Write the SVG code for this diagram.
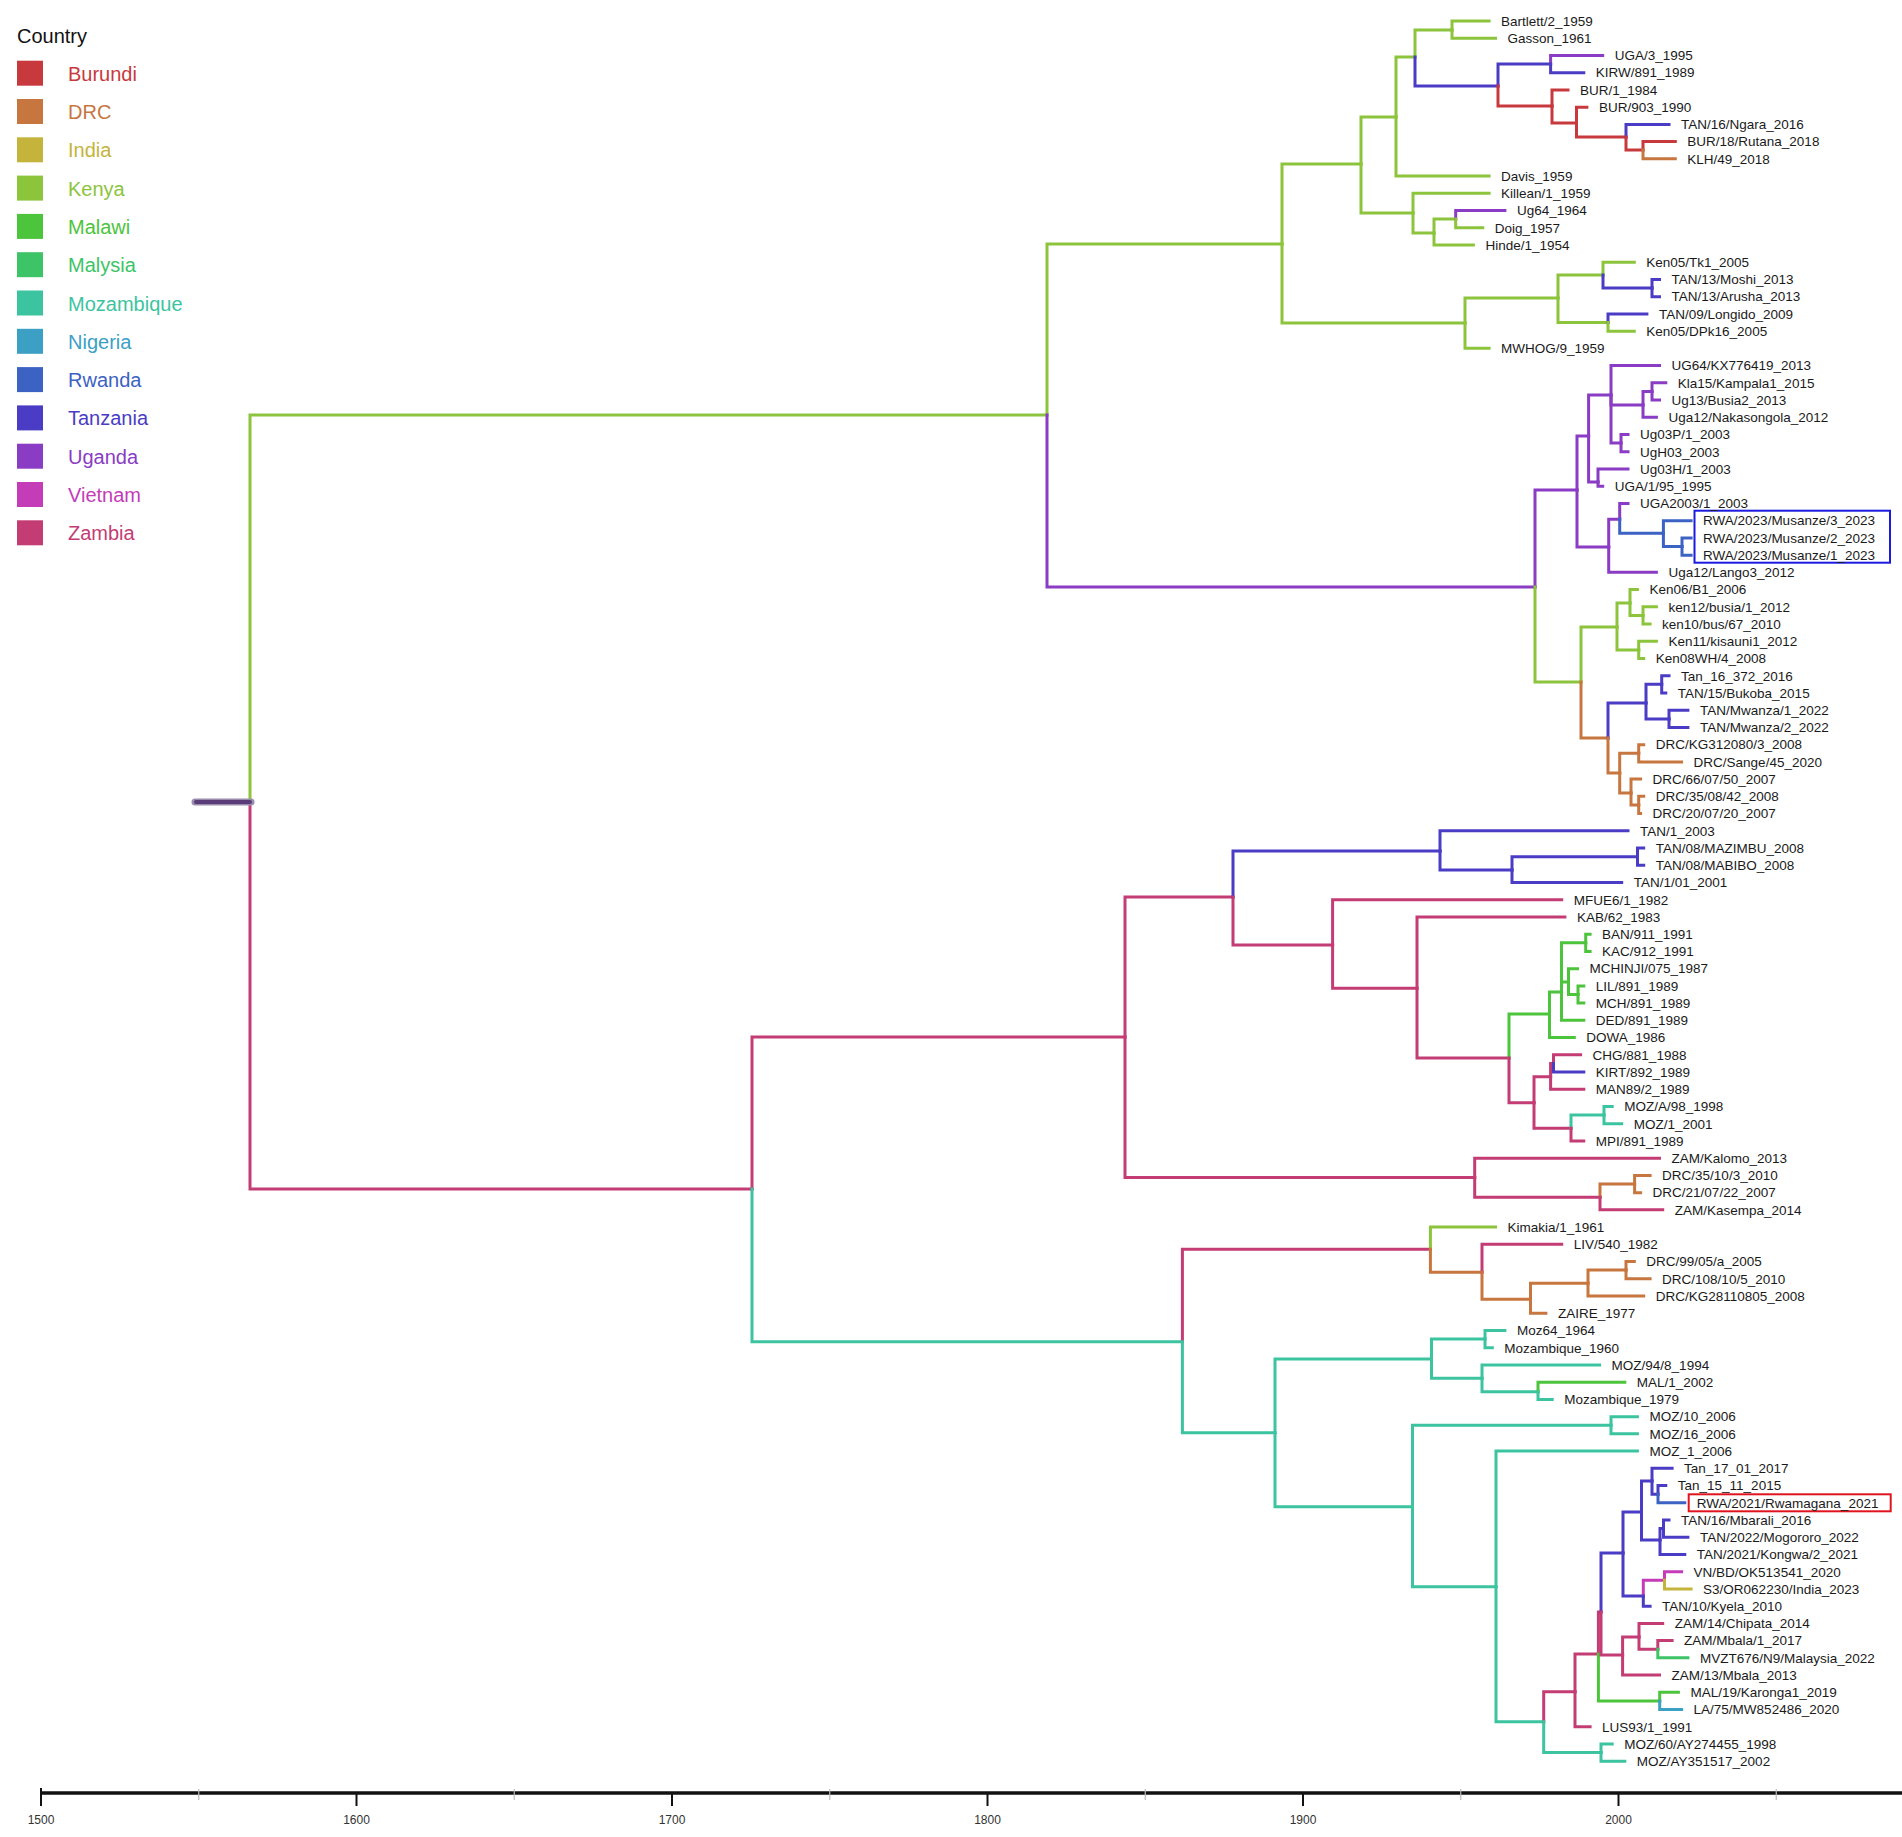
<svg xmlns="http://www.w3.org/2000/svg" width="1902" height="1837" viewBox="0 0 1902 1837">
<style>
.e{fill:none;stroke-width:3;stroke-linecap:square;stroke-linejoin:miter}
.bu{stroke:#c8393e}.dr{stroke:#c8763f}.in{stroke:#c4b43c}.ke{stroke:#8cc43c}.mw{stroke:#4cc43c}.my{stroke:#3cc466}.mz{stroke:#3cc4a0}.ng{stroke:#3ca0c4}.rw{stroke:#3c62c4}.tz{stroke:#4a3cc4}.ug{stroke:#8a3cc4}.vn{stroke:#c43cb8}.za{stroke:#c43c74}
.t{font-family:"Liberation Sans",Arial,sans-serif;font-size:13.5px;fill:#1a1a1a}
.lg{font-family:"Liberation Sans",Arial,sans-serif;font-size:20px}
.ax{font-family:"Liberation Sans",Arial,sans-serif;font-size:12px;fill:#333;text-anchor:middle}
</style>
<rect width="1902" height="1837" fill="#ffffff"/>
<g id="legend">
<text class="lg" x="17" y="43" fill="#111">Country</text>
<rect x="17" y="60.7" width="26" height="25" fill="#c8393e"/><text class="lg" x="68" y="80.7" fill="#c8393e">Burundi</text>
<rect x="17" y="99" width="26" height="25" fill="#c8763f"/><text class="lg" x="68" y="119" fill="#c8763f">DRC</text>
<rect x="17" y="137.3" width="26" height="25" fill="#c4b43c"/><text class="lg" x="68" y="157.3" fill="#c4b43c">India</text>
<rect x="17" y="175.6" width="26" height="25" fill="#8cc43c"/><text class="lg" x="68" y="195.6" fill="#8cc43c">Kenya</text>
<rect x="17" y="213.9" width="26" height="25" fill="#4cc43c"/><text class="lg" x="68" y="233.9" fill="#4cc43c">Malawi</text>
<rect x="17" y="252.2" width="26" height="25" fill="#3cc466"/><text class="lg" x="68" y="272.2" fill="#3cc466">Malysia</text>
<rect x="17" y="290.5" width="26" height="25" fill="#3cc4a0"/><text class="lg" x="68" y="310.5" fill="#3cc4a0">Mozambique</text>
<rect x="17" y="328.8" width="26" height="25" fill="#3ca0c4"/><text class="lg" x="68" y="348.8" fill="#3ca0c4">Nigeria</text>
<rect x="17" y="367.1" width="26" height="25" fill="#3c62c4"/><text class="lg" x="68" y="387.1" fill="#3c62c4">Rwanda</text>
<rect x="17" y="405.4" width="26" height="25" fill="#4a3cc4"/><text class="lg" x="68" y="425.4" fill="#4a3cc4">Tanzania</text>
<rect x="17" y="443.7" width="26" height="25" fill="#8a3cc4"/><text class="lg" x="68" y="463.7" fill="#8a3cc4">Uganda</text>
<rect x="17" y="482" width="26" height="25" fill="#c43cb8"/><text class="lg" x="68" y="502" fill="#c43cb8">Vietnam</text>
<rect x="17" y="520.3" width="26" height="25" fill="#c43c74"/><text class="lg" x="68" y="540.3" fill="#c43c74">Zambia</text>
</g>
<g id="connectors" class="e">
<path class="ke" d="M250,802V415H1047"/>
<path class="za" d="M250,802V1189H752"/>
<path class="ke" d="M1047,415V244H1282"/>
<path class="ug" d="M1047,415V587H1535"/>
<path class="ke" d="M1282,244V164H1361"/>
<path class="ke" d="M1282,244V323H1465"/>
<path class="ke" d="M1361,164V117H1396"/>
<path class="ke" d="M1361,164V213H1413"/>
<path class="ke" d="M1396,117V57H1415"/>
<path class="ke" d="M1396,117V176.07H1489.1"/>
<path class="ke" d="M1415,57V30H1452"/>
<path class="tz" d="M1415,57V86H1498"/>
<path class="ke" d="M1452,30V21H1489.1"/>
<path class="ke" d="M1452,30V38.23H1495.5"/>
<path class="tz" d="M1498,86V64H1550.6"/>
<path class="bu" d="M1498,86V106H1552"/>
<path class="ug" d="M1550.6,64V55.46H1602.7"/>
<path class="tz" d="M1550.6,64V72.69H1583.8"/>
<path class="bu" d="M1552,106V89.92H1568"/>
<path class="bu" d="M1552,106V123H1576.5"/>
<path class="bu" d="M1576.5,123V107.15H1586.9"/>
<path class="bu" d="M1576.5,123V137H1626"/>
<path class="tz" d="M1626,137V124.38H1669"/>
<path class="bu" d="M1626,137V150H1643"/>
<path class="bu" d="M1643,150V141.61H1675.3"/>
<path class="dr" d="M1643,150V158.84H1675.3"/>
<path class="ke" d="M1413,213V193.3H1489.1"/>
<path class="ke" d="M1413,213V233H1434"/>
<path class="ke" d="M1434,233V219H1455.7"/>
<path class="ke" d="M1434,233V244.99H1473.4"/>
<path class="ug" d="M1455.7,219V210.53H1504.9"/>
<path class="ke" d="M1455.7,219V227.76H1482.8"/>
<path class="ke" d="M1465,323V298H1558"/>
<path class="ke" d="M1465,323V348.37H1489.1"/>
<path class="ke" d="M1558,298V275H1603"/>
<path class="ke" d="M1558,298V322.5H1608"/>
<path class="ke" d="M1603,275V262.22H1634.3"/>
<path class="tz" d="M1603,275V288H1652"/>
<path class="tz" d="M1652,288V279.45H1659.5"/>
<path class="tz" d="M1652,288V296.68H1659.5"/>
<path class="tz" d="M1608,322.5V313.91H1646.9"/>
<path class="ke" d="M1608,322.5V331.14H1634.3"/>
<path class="ug" d="M1535,587V490H1577"/>
<path class="ke" d="M1535,587V682H1581"/>
<path class="ug" d="M1577,490V436H1588.6"/>
<path class="ug" d="M1577,490V547H1608.7"/>
<path class="ug" d="M1588.6,436V395H1611"/>
<path class="ug" d="M1588.6,436V482H1598"/>
<path class="ug" d="M1611,395V365.6H1659.5"/>
<path class="ug" d="M1611,395V405H1643"/>
<path class="ug" d="M1611,395V443H1621"/>
<path class="ug" d="M1643,405V391.5H1652"/>
<path class="ug" d="M1643,405V417.29H1656.4"/>
<path class="ug" d="M1652,391.5V382.83H1665.8"/>
<path class="ug" d="M1652,391.5V400.06H1659.5"/>
<path class="ug" d="M1621,443V434.52H1628"/>
<path class="ug" d="M1621,443V451.75H1628"/>
<path class="ug" d="M1598,482V468.98H1628"/>
<path class="ug" d="M1598,482V486.21H1602.7"/>
<path class="ug" d="M1608.7,547V519.3H1619.7"/>
<path class="ug" d="M1608.7,547V572.36H1656.4"/>
<path class="ug" d="M1619.7,519.3V503.44H1628"/>
<path class="rw" d="M1619.7,519.3V533.3H1663.4"/>
<path class="rw" d="M1663.4,533.3V520.67H1691.1"/>
<path class="rw" d="M1663.4,533.3V546.5H1682"/>
<path class="rw" d="M1682,546.5V537.9H1691.1"/>
<path class="rw" d="M1682,546.5V555.13H1691.1"/>
<path class="ke" d="M1581,682V627H1617"/>
<path class="dr" d="M1581,682V738H1608"/>
<path class="ke" d="M1617,627V603H1630"/>
<path class="ke" d="M1617,627V650H1638.7"/>
<path class="ke" d="M1630,603V589.59H1637.4"/>
<path class="ke" d="M1630,603V615.4H1643"/>
<path class="ke" d="M1643,615.4V606.82H1656.4"/>
<path class="ke" d="M1643,615.4V624.05H1650.1"/>
<path class="ke" d="M1638.7,650V641.28H1656.4"/>
<path class="ke" d="M1638.7,650V658.51H1643.7"/>
<path class="tz" d="M1608,738V703H1646"/>
<path class="dr" d="M1608,738V773H1619.7"/>
<path class="tz" d="M1646,703V684.3H1661.7"/>
<path class="tz" d="M1646,703V719H1669"/>
<path class="tz" d="M1661.7,684.3V675.74H1669"/>
<path class="tz" d="M1661.7,684.3V692.97H1665.8"/>
<path class="tz" d="M1669,719V710.2H1687.9"/>
<path class="tz" d="M1669,719V727.43H1687.9"/>
<path class="dr" d="M1619.7,773V753.3H1638.7"/>
<path class="dr" d="M1619.7,773V793H1631"/>
<path class="dr" d="M1638.7,753.3V744.66H1643.7"/>
<path class="dr" d="M1638.7,753.3V761.89H1681.6"/>
<path class="dr" d="M1631,793V779.12H1640.6"/>
<path class="dr" d="M1631,793V805H1638.7"/>
<path class="dr" d="M1638.7,805V796.35H1643.7"/>
<path class="dr" d="M1638.7,805V813.58H1640.6"/>
<path class="za" d="M752,1189V1037H1125"/>
<path class="mz" d="M752,1189V1341.7H1182.4"/>
<path class="za" d="M1125,1037V897H1233"/>
<path class="za" d="M1125,1037V1177.5H1474.7"/>
<path class="tz" d="M1233,897V851H1440"/>
<path class="za" d="M1233,897V945H1332.6"/>
<path class="tz" d="M1440,851V830.81H1628"/>
<path class="tz" d="M1440,851V870H1512"/>
<path class="tz" d="M1512,870V856.7H1637.5"/>
<path class="tz" d="M1512,870V882.5H1621.7"/>
<path class="tz" d="M1637.5,856.7V848.04H1643.7"/>
<path class="tz" d="M1637.5,856.7V865.27H1643.7"/>
<path class="za" d="M1332.6,945V899.73H1561.7"/>
<path class="za" d="M1332.6,945V988.3H1417"/>
<path class="za" d="M1417,988.3V916.96H1564.9"/>
<path class="za" d="M1417,988.3V1058H1509"/>
<path class="mw" d="M1509,1058V1014H1549.5"/>
<path class="za" d="M1509,1058V1102.7H1534"/>
<path class="mw" d="M1549.5,1014V992H1561.5"/>
<path class="mw" d="M1549.5,1014V1037.57H1574.3"/>
<path class="mw" d="M1561.5,992V942.8H1585.7"/>
<path class="mw" d="M1561.5,992V982H1568.5"/>
<path class="mw" d="M1561.5,992V1020.34H1583.8"/>
<path class="mw" d="M1585.7,942.8V934.19H1590.1"/>
<path class="mw" d="M1585.7,942.8V951.42H1590.1"/>
<path class="mw" d="M1568.5,982V968.65H1577.5"/>
<path class="mw" d="M1568.5,982V994.5H1578"/>
<path class="mw" d="M1578,994.5V985.88H1583.8"/>
<path class="mw" d="M1578,994.5V1003.11H1583.8"/>
<path class="za" d="M1534,1102.7V1076.7H1550.6"/>
<path class="za" d="M1534,1102.7V1128.3H1571"/>
<path class="za" d="M1550.6,1076.7V1063.4H1553.5"/>
<path class="za" d="M1550.6,1076.7V1089.26H1583.8"/>
<path class="za" d="M1553.5,1063.4V1054.8H1580.6"/>
<path class="tz" d="M1553.5,1063.4V1072.03H1583.8"/>
<path class="mz" d="M1571,1128.3V1115H1604"/>
<path class="za" d="M1571,1128.3V1140.95H1583.8"/>
<path class="mz" d="M1604,1115V1106.49H1612.2"/>
<path class="mz" d="M1604,1115V1123.72H1621.7"/>
<path class="za" d="M1474.7,1177.5V1158.18H1659.5"/>
<path class="za" d="M1474.7,1177.5V1197.3H1600"/>
<path class="dr" d="M1600,1197.3V1184H1634.6"/>
<path class="za" d="M1600,1197.3V1209.87H1662.7"/>
<path class="dr" d="M1634.6,1184V1175.41H1650.1"/>
<path class="dr" d="M1634.6,1184V1192.64H1640.6"/>
<path class="za" d="M1182.4,1341.7V1249.3H1430.4"/>
<path class="mz" d="M1182.4,1341.7V1432.7H1275"/>
<path class="ke" d="M1430.4,1249.3V1227.1H1495.5"/>
<path class="dr" d="M1430.4,1249.3V1272.3H1482"/>
<path class="za" d="M1482,1272.3V1244.33H1561.7"/>
<path class="dr" d="M1482,1272.3V1299.3H1530.5"/>
<path class="dr" d="M1530.5,1299.3V1283.3H1588"/>
<path class="dr" d="M1530.5,1299.3V1313.25H1545.9"/>
<path class="dr" d="M1588,1283.3V1270H1626"/>
<path class="dr" d="M1588,1283.3V1296.02H1643.7"/>
<path class="dr" d="M1626,1270V1261.56H1634.3"/>
<path class="dr" d="M1626,1270V1278.79H1650.1"/>
<path class="mz" d="M1275,1432.7V1359H1431.5"/>
<path class="mz" d="M1275,1432.7V1506.7H1412.5"/>
<path class="mz" d="M1431.5,1359V1339H1485"/>
<path class="mz" d="M1431.5,1359V1378.3H1482"/>
<path class="mz" d="M1485,1339V1330.48H1504.9"/>
<path class="mz" d="M1485,1339V1347.71H1492.3"/>
<path class="mz" d="M1482,1378.3V1364.94H1599.6"/>
<path class="mz" d="M1482,1378.3V1391.7H1538"/>
<path class="mw" d="M1538,1391.7V1382.17H1624.8"/>
<path class="mz" d="M1538,1391.7V1399.4H1552.2"/>
<path class="mz" d="M1412.5,1506.7V1425.2H1611"/>
<path class="mz" d="M1412.5,1506.7V1586.7H1496"/>
<path class="mz" d="M1611,1425.2V1416.63H1637.4"/>
<path class="mz" d="M1611,1425.2V1433.86H1637.4"/>
<path class="mz" d="M1496,1586.7V1451.09H1637.4"/>
<path class="mz" d="M1496,1586.7V1721.7H1543.7"/>
<path class="za" d="M1543.7,1721.7V1691.7H1575"/>
<path class="mz" d="M1543.7,1721.7V1752.6H1601"/>
<path class="mz" d="M1601,1752.6V1744H1612.2"/>
<path class="mz" d="M1601,1752.6V1761.23H1624.8"/>
<path class="za" d="M1575,1691.7V1654H1598.4"/>
<path class="za" d="M1575,1691.7V1726.77H1590.1"/>
<path class="za" d="M1598.4,1654V1612H1601"/>
<path class="mw" d="M1598.4,1654V1701H1659.7"/>
<path class="tz" d="M1601,1612V1553H1623"/>
<path class="za" d="M1601,1612V1655H1622.6"/>
<path class="tz" d="M1623,1553V1512H1641.5"/>
<path class="tz" d="M1623,1553V1596H1643.3"/>
<path class="tz" d="M1641.5,1512V1481H1652"/>
<path class="tz" d="M1641.5,1512V1540H1660"/>
<path class="tz" d="M1652,1481V1468.32H1672.1"/>
<path class="tz" d="M1652,1481V1494.2H1658"/>
<path class="tz" d="M1658,1494.2V1485.55H1665.8"/>
<path class="rw" d="M1658,1494.2V1502.78H1684.8"/>
<path class="tz" d="M1660,1540V1528.6H1663.5"/>
<path class="tz" d="M1660,1540V1554.47H1684.8"/>
<path class="tz" d="M1663.5,1528.6V1520.01H1669"/>
<path class="tz" d="M1663.5,1528.6V1537.24H1687.9"/>
<path class="vn" d="M1643.3,1596V1580.3H1664.5"/>
<path class="tz" d="M1643.3,1596V1606.16H1650.1"/>
<path class="vn" d="M1664.5,1580.3V1571.7H1681.6"/>
<path class="in" d="M1664.5,1580.3V1588.93H1691.1"/>
<path class="za" d="M1622.6,1655V1637H1639"/>
<path class="za" d="M1622.6,1655V1675.08H1659.5"/>
<path class="za" d="M1639,1637V1623.39H1662.7"/>
<path class="za" d="M1639,1637V1649.2H1657.8"/>
<path class="za" d="M1657.8,1649.2V1640.62H1672.1"/>
<path class="my" d="M1657.8,1649.2V1657.85H1687.9"/>
<path class="mw" d="M1659.7,1701V1692.31H1678.4"/>
<path class="ng" d="M1659.7,1701V1709.54H1681.6"/>
</g>
<g id="root">
<line x1="195" y1="802" x2="251" y2="802" stroke="#9a8cae" stroke-width="7" stroke-linecap="round"/>
<line x1="196" y1="802" x2="250" y2="802" stroke="#5a3d78" stroke-width="4" stroke-linecap="round"/>
</g>
<g id="highlights" fill="none" stroke-width="2">
<rect x="1694.5" y="510.7" width="195.5" height="52" stroke="#1a1ae0"/>
<rect x="1688.7" y="1494.3" width="202" height="17" stroke="#e0141e"/>
</g>
<g id="tips" class="t">
<g id="tip-1"><text x="1501.1" y="25.8">Bartlett/2_1959</text></g>
<g id="tip-2"><text x="1507.5" y="43.03">Gasson_1961</text></g>
<g id="tip-3"><text x="1614.7" y="60.26">UGA/3_1995</text></g>
<g id="tip-4"><text x="1595.8" y="77.49">KIRW/891_1989</text></g>
<g id="tip-5"><text x="1580" y="94.72">BUR/1_1984</text></g>
<g id="tip-6"><text x="1598.9" y="111.95">BUR/903_1990</text></g>
<g id="tip-7"><text x="1681" y="129.18">TAN/16/Ngara_2016</text></g>
<g id="tip-8"><text x="1687.3" y="146.41">BUR/18/Rutana_2018</text></g>
<g id="tip-9"><text x="1687.3" y="163.64">KLH/49_2018</text></g>
<g id="tip-10"><text x="1501.1" y="180.87">Davis_1959</text></g>
<g id="tip-11"><text x="1501.1" y="198.1">Killean/1_1959</text></g>
<g id="tip-12"><text x="1516.9" y="215.33">Ug64_1964</text></g>
<g id="tip-13"><text x="1494.8" y="232.56">Doig_1957</text></g>
<g id="tip-14"><text x="1485.4" y="249.79">Hinde/1_1954</text></g>
<g id="tip-15"><text x="1646.3" y="267.02">Ken05/Tk1_2005</text></g>
<g id="tip-16"><text x="1671.5" y="284.25">TAN/13/Moshi_2013</text></g>
<g id="tip-17"><text x="1671.5" y="301.48">TAN/13/Arusha_2013</text></g>
<g id="tip-18"><text x="1658.9" y="318.71">TAN/09/Longido_2009</text></g>
<g id="tip-19"><text x="1646.3" y="335.94">Ken05/DPk16_2005</text></g>
<g id="tip-20"><text x="1501.1" y="353.17">MWHOG/9_1959</text></g>
<g id="tip-21"><text x="1671.5" y="370.4">UG64/KX776419_2013</text></g>
<g id="tip-22"><text x="1677.8" y="387.63">Kla15/Kampala1_2015</text></g>
<g id="tip-23"><text x="1671.5" y="404.86">Ug13/Busia2_2013</text></g>
<g id="tip-24"><text x="1668.4" y="422.09">Uga12/Nakasongola_2012</text></g>
<g id="tip-25"><text x="1640" y="439.32">Ug03P/1_2003</text></g>
<g id="tip-26"><text x="1640" y="456.55">UgH03_2003</text></g>
<g id="tip-27"><text x="1640" y="473.78">Ug03H/1_2003</text></g>
<g id="tip-28"><text x="1614.7" y="491.01">UGA/1/95_1995</text></g>
<g id="tip-29"><text x="1640" y="508.24">UGA2003/1_2003</text></g>
<g id="tip-30"><text x="1703.1" y="525.47">RWA/2023/Musanze/3_2023</text></g>
<g id="tip-31"><text x="1703.1" y="542.7">RWA/2023/Musanze/2_2023</text></g>
<g id="tip-32"><text x="1703.1" y="559.93">RWA/2023/Musanze/1_2023</text></g>
<g id="tip-33"><text x="1668.4" y="577.16">Uga12/Lango3_2012</text></g>
<g id="tip-34"><text x="1649.4" y="594.39">Ken06/B1_2006</text></g>
<g id="tip-35"><text x="1668.4" y="611.62">ken12/busia/1_2012</text></g>
<g id="tip-36"><text x="1662.1" y="628.85">ken10/bus/67_2010</text></g>
<g id="tip-37"><text x="1668.4" y="646.08">Ken11/kisauni1_2012</text></g>
<g id="tip-38"><text x="1655.7" y="663.31">Ken08WH/4_2008</text></g>
<g id="tip-39"><text x="1681" y="680.54">Tan_16_372_2016</text></g>
<g id="tip-40"><text x="1677.8" y="697.77">TAN/15/Bukoba_2015</text></g>
<g id="tip-41"><text x="1699.9" y="715">TAN/Mwanza/1_2022</text></g>
<g id="tip-42"><text x="1699.9" y="732.23">TAN/Mwanza/2_2022</text></g>
<g id="tip-43"><text x="1655.7" y="749.46">DRC/KG312080/3_2008</text></g>
<g id="tip-44"><text x="1693.6" y="766.69">DRC/Sange/45_2020</text></g>
<g id="tip-45"><text x="1652.6" y="783.92">DRC/66/07/50_2007</text></g>
<g id="tip-46"><text x="1655.7" y="801.15">DRC/35/08/42_2008</text></g>
<g id="tip-47"><text x="1652.6" y="818.38">DRC/20/07/20_2007</text></g>
<g id="tip-48"><text x="1640" y="835.61">TAN/1_2003</text></g>
<g id="tip-49"><text x="1655.7" y="852.84">TAN/08/MAZIMBU_2008</text></g>
<g id="tip-50"><text x="1655.7" y="870.07">TAN/08/MABIBO_2008</text></g>
<g id="tip-51"><text x="1633.7" y="887.3">TAN/1/01_2001</text></g>
<g id="tip-52"><text x="1573.7" y="904.53">MFUE6/1_1982</text></g>
<g id="tip-53"><text x="1576.9" y="921.76">KAB/62_1983</text></g>
<g id="tip-54"><text x="1602.1" y="938.99">BAN/911_1991</text></g>
<g id="tip-55"><text x="1602.1" y="956.22">KAC/912_1991</text></g>
<g id="tip-56"><text x="1589.5" y="973.45">MCHINJI/075_1987</text></g>
<g id="tip-57"><text x="1595.8" y="990.68">LIL/891_1989</text></g>
<g id="tip-58"><text x="1595.8" y="1007.91">MCH/891_1989</text></g>
<g id="tip-59"><text x="1595.8" y="1025.14">DED/891_1989</text></g>
<g id="tip-60"><text x="1586.3" y="1042.37">DOWA_1986</text></g>
<g id="tip-61"><text x="1592.6" y="1059.6">CHG/881_1988</text></g>
<g id="tip-62"><text x="1595.8" y="1076.83">KIRT/892_1989</text></g>
<g id="tip-63"><text x="1595.8" y="1094.06">MAN89/2_1989</text></g>
<g id="tip-64"><text x="1624.2" y="1111.29">MOZ/A/98_1998</text></g>
<g id="tip-65"><text x="1633.7" y="1128.52">MOZ/1_2001</text></g>
<g id="tip-66"><text x="1595.8" y="1145.75">MPI/891_1989</text></g>
<g id="tip-67"><text x="1671.5" y="1162.98">ZAM/Kalomo_2013</text></g>
<g id="tip-68"><text x="1662.1" y="1180.21">DRC/35/10/3_2010</text></g>
<g id="tip-69"><text x="1652.6" y="1197.44">DRC/21/07/22_2007</text></g>
<g id="tip-70"><text x="1674.7" y="1214.67">ZAM/Kasempa_2014</text></g>
<g id="tip-71"><text x="1507.5" y="1231.9">Kimakia/1_1961</text></g>
<g id="tip-72"><text x="1573.7" y="1249.13">LIV/540_1982</text></g>
<g id="tip-73"><text x="1646.3" y="1266.36">DRC/99/05/a_2005</text></g>
<g id="tip-74"><text x="1662.1" y="1283.59">DRC/108/10/5_2010</text></g>
<g id="tip-75"><text x="1655.7" y="1300.82">DRC/KG28110805_2008</text></g>
<g id="tip-76"><text x="1557.9" y="1318.05">ZAIRE_1977</text></g>
<g id="tip-77"><text x="1516.9" y="1335.28">Moz64_1964</text></g>
<g id="tip-78"><text x="1504.3" y="1352.51">Mozambique_1960</text></g>
<g id="tip-79"><text x="1611.6" y="1369.74">MOZ/94/8_1994</text></g>
<g id="tip-80"><text x="1636.8" y="1386.97">MAL/1_2002</text></g>
<g id="tip-81"><text x="1564.2" y="1404.2">Mozambique_1979</text></g>
<g id="tip-82"><text x="1649.4" y="1421.43">MOZ/10_2006</text></g>
<g id="tip-83"><text x="1649.4" y="1438.66">MOZ/16_2006</text></g>
<g id="tip-84"><text x="1649.4" y="1455.89">MOZ_1_2006</text></g>
<g id="tip-85"><text x="1684.1" y="1473.12">Tan_17_01_2017</text></g>
<g id="tip-86"><text x="1677.8" y="1490.35">Tan_15_11_2015</text></g>
<g id="tip-87"><text x="1696.8" y="1507.58">RWA/2021/Rwamagana_2021</text></g>
<g id="tip-88"><text x="1681" y="1524.81">TAN/16/Mbarali_2016</text></g>
<g id="tip-89"><text x="1699.9" y="1542.04">TAN/2022/Mogororo_2022</text></g>
<g id="tip-90"><text x="1696.8" y="1559.27">TAN/2021/Kongwa/2_2021</text></g>
<g id="tip-91"><text x="1693.6" y="1576.5">VN/BD/OK513541_2020</text></g>
<g id="tip-92"><text x="1703.1" y="1593.73">S3/OR062230/India_2023</text></g>
<g id="tip-93"><text x="1662.1" y="1610.96">TAN/10/Kyela_2010</text></g>
<g id="tip-94"><text x="1674.7" y="1628.19">ZAM/14/Chipata_2014</text></g>
<g id="tip-95"><text x="1684.1" y="1645.42">ZAM/Mbala/1_2017</text></g>
<g id="tip-96"><text x="1699.9" y="1662.65">MVZT676/N9/Malaysia_2022</text></g>
<g id="tip-97"><text x="1671.5" y="1679.88">ZAM/13/Mbala_2013</text></g>
<g id="tip-98"><text x="1690.4" y="1697.11">MAL/19/Karonga1_2019</text></g>
<g id="tip-99"><text x="1693.6" y="1714.34">LA/75/MW852486_2020</text></g>
<g id="tip-100"><text x="1602.1" y="1731.57">LUS93/1_1991</text></g>
<g id="tip-101"><text x="1624.2" y="1748.8">MOZ/60/AY274455_1998</text></g>
<g id="tip-102"><text x="1636.8" y="1766.03">MOZ/AY351517_2002</text></g>
</g>
<g id="axis">
<line x1="41" y1="1793" x2="1902" y2="1793" stroke="#111" stroke-width="3.5"/>
<g stroke="#bbb" stroke-width="1.2">
<line x1="198.75" y1="1789" x2="198.75" y2="1800"/><line x1="514.25" y1="1789" x2="514.25" y2="1800"/><line x1="829.75" y1="1789" x2="829.75" y2="1800"/><line x1="1145.25" y1="1789" x2="1145.25" y2="1800"/><line x1="1460.75" y1="1789" x2="1460.75" y2="1800"/><line x1="1776.25" y1="1789" x2="1776.25" y2="1800"/>
</g>
<g stroke="#111" stroke-width="2">
<line x1="41" y1="1788" x2="41" y2="1806"/><line x1="356.5" y1="1793" x2="356.5" y2="1806"/><line x1="672" y1="1793" x2="672" y2="1806"/><line x1="987.5" y1="1793" x2="987.5" y2="1806"/><line x1="1303" y1="1793" x2="1303" y2="1806"/><line x1="1618.5" y1="1793" x2="1618.5" y2="1806"/>
</g>
<g class="ax">
<text x="41" y="1824">1500</text><text x="356.5" y="1824">1600</text><text x="672" y="1824">1700</text><text x="987.5" y="1824">1800</text><text x="1303" y="1824">1900</text><text x="1618.5" y="1824">2000</text>
</g>
</g>
</svg>
